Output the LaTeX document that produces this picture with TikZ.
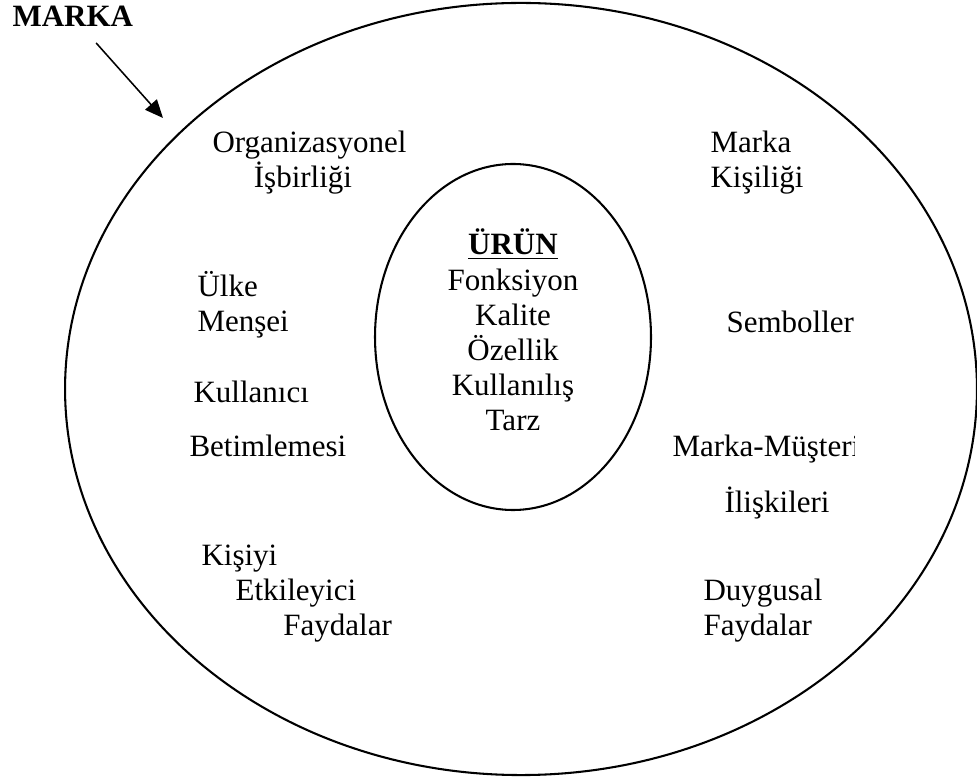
\documentclass[tikz,border=0pt]{standalone}
\usepackage{fontspec}
\setmainfont{Liberation Serif}
\usetikzlibrary{shapes.geometric, arrows.meta, positioning}

\begin{document}
\begin{tikzpicture}[x=0.387pt, y=-0.387pt, font=\fontsize{12}{13.6}\selectfont,
    lbl/.style={inner sep=0pt, anchor=base west, align=left}]
        \useasboundingbox (0,0) rectangle (977,781);
        % Define ellipses
        \node (marka) [ellipse, draw, line width=0.8pt, inner sep=0pt, minimum width=352.9pt, minimum height=298.8pt] at (521,389) {};
        \node (urun) [ellipse, draw, line width=0.8pt, inner sep=0pt, minimum width=106.8pt, minimum height=133.9pt] at (513,337) {};
        \node (features) [inner sep=0pt, align=center] at (513,330) {\underline{\textbf{ÜRÜN}}\\Fonksiyon\\Kalite\\Özellik\\Kullanılış\\Tarz};

        % Draw arrow
        \node (title) [inner sep=0pt, anchor=base west, font=\fontsize{12}{13.6}\selectfont\bfseries] at (12,27) {MARKA};
        \coordinate (tip) at (163,118);
        \draw[-{Triangle[length=7pt,width=6pt]}, line width=0.6pt, shorten <=8pt] (title) -- (tip);

        % Add brand elements (base = last line)
        \node (org) [lbl] at (212,188) {Organizasyonel\\\hspace*{16pt}İşbirliği};
        \node (kisilik) [lbl] at (710,188) {Marka\\Kişiliği};
        \node (ulke) [lbl] at (197,332) {Ülke\\Menşei};
        \node (kullanici) [lbl] at (193,403) {Kullanıcı};
        \node (betimleme) [lbl] at (189,457) {Betimlemesi};
        \node (iliski) [lbl] at (724,513) {İlişkileri};
        \node (etkileyici) [lbl] at (201,636) {Kişiyi\\\hspace*{13.2pt}Etkileyici\\\hspace*{31.7pt}Faydalar};
        \node (duygusal) [lbl] at (703,636) {Duygusal\\Faydalar};
        \begin{scope}
            \clip (0,0) rectangle (854,781);
            \node (sembol) [lbl] at (726,333) {Semboller};
            \node (musteri) [lbl] at (672,457) {Marka-Müşteri};
        \end{scope}
    \end{tikzpicture}
\end{document}
